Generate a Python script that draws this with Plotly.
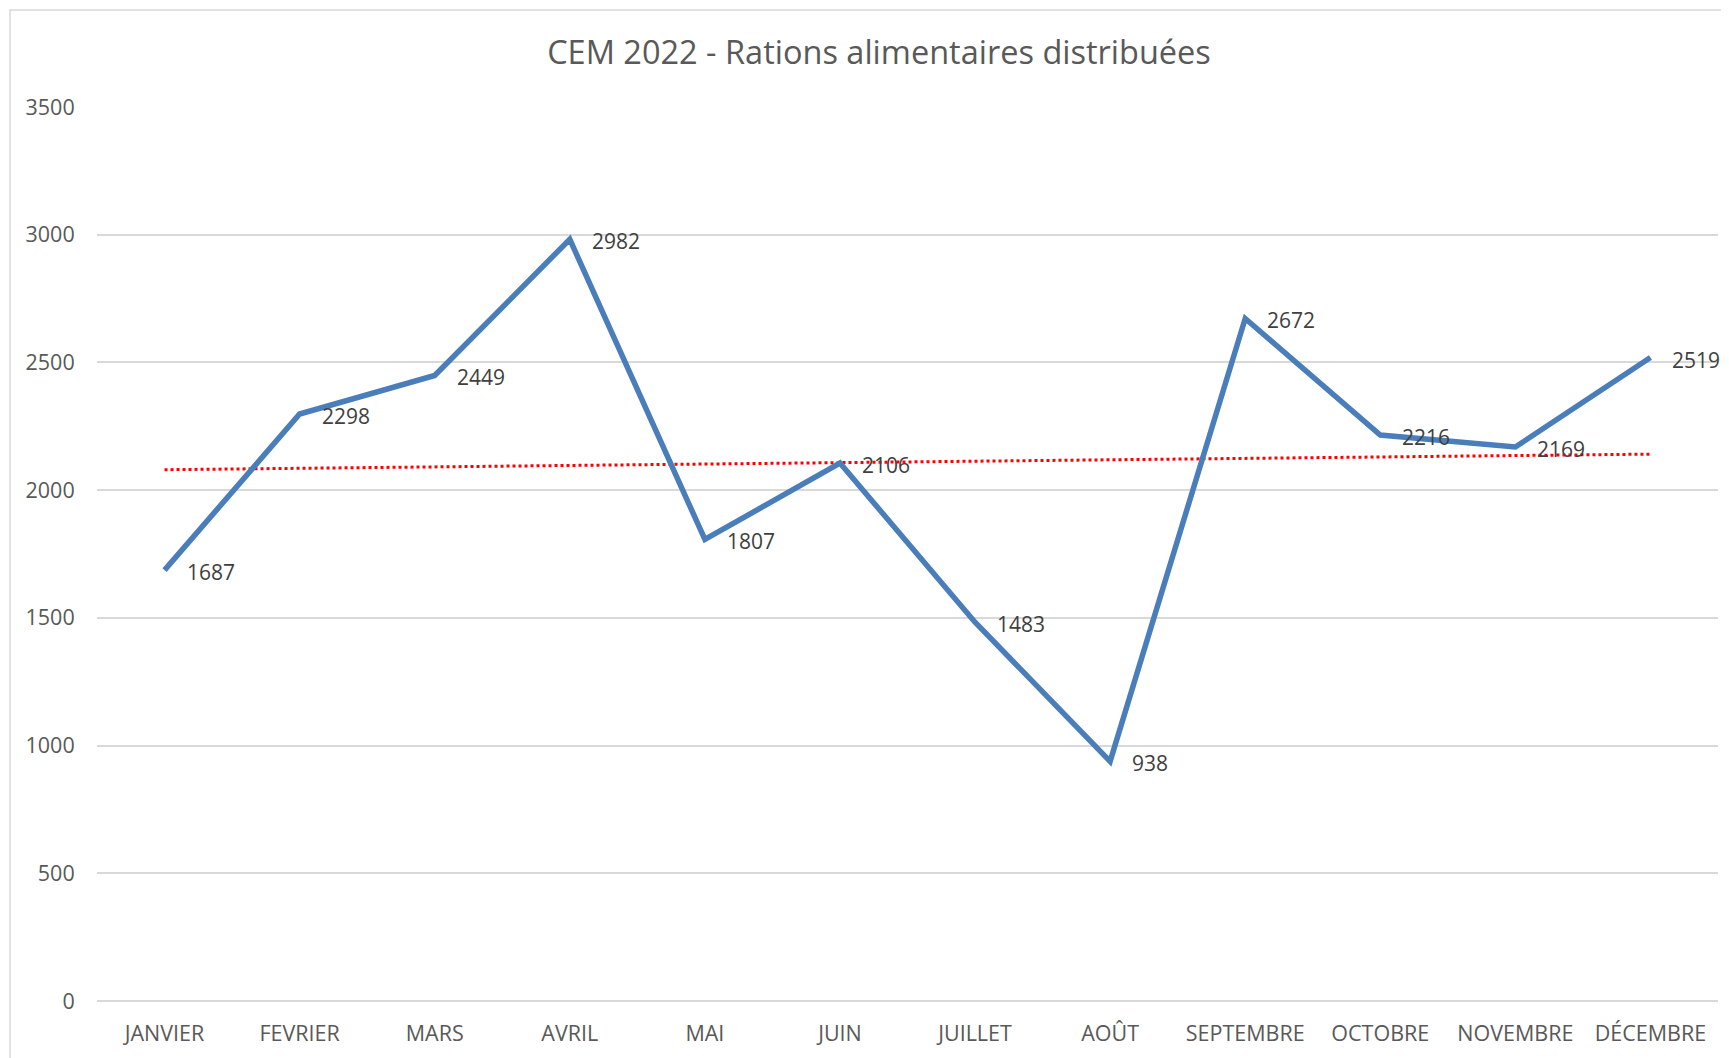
import plotly.graph_objects as go

# Données
mois = ["JANVIER", "FEVRIER", "MARS", "AVRIL", "MAI", "JUIN", "JUILLET",
        "AOÛT", "SEPTEMBRE", "OCTOBRE", "NOVEMBRE", "DÉCEMBRE"]
rations = [1687, 2298, 2449, 2982, 1807, 2106, 1483, 938, 2672, 2216, 2169, 2519]
# courbe de tendance linéaire (début / fin)
tendance_mois = ["JANVIER", "DÉCEMBRE"]
tendance = [2080, 2141]
y_ticks = [0, 500, 1000, 1500, 2000, 2500, 3000, 3500]

# la page HTML ajoute une marge de 8 px autour de la figure
W, H = 1721, 1050
ml, mr, mt, mb = 89, 11, 99, 57
pw = W - ml - mr
ph = H - mt - mb

fig = go.Figure()

fig.add_trace(go.Scatter(
    x=tendance_mois, y=tendance, mode="lines",
    line=dict(color="#ff0000", width=3, dash="dot"),
    hoverinfo="skip", showlegend=False,
))

fig.add_trace(go.Scatter(
    x=mois, y=rations, mode="lines",
    line=dict(color="#4a7ebb", width=5.5),
    showlegend=False,
))

# étiquettes de données à droite des points
for m, v in zip(mois, rations):
    fig.add_annotation(
        x=m, y=v, text=str(v), showarrow=False,
        xanchor="left", yanchor="middle", xshift=20, yshift=-2,
        font=dict(size=21, color="#404040", family="Open Sans"),
    )

fig.update_layout(
    width=W, height=H,
    margin=dict(l=ml, r=mr, t=mt, b=mb),
    paper_bgcolor="white", plot_bgcolor="white",
    font=dict(family="Open Sans", color="#595959"),
    title=dict(
        text="CEM 2022 - Rations alimentaires distribuées",
        x=871 / W, xanchor="center", xref="container",
        y=1 - 45 / H, yanchor="middle", yref="container",
        font=dict(size=32.5, color="#595959", family="Open Sans"),
    ),
    xaxis=dict(
        type="category", categoryarray=mois, range=[-0.5, 11.5],
        showgrid=False, showline=False, zeroline=False,
        ticks="outside", ticklen=13, tickcolor="rgba(0,0,0,0)",
        tickfont=dict(size=21.5, color="#595959"),
    ),
    yaxis=dict(
        range=[0, 3500], tickvals=y_ticks,
        showgrid=True, gridcolor="#d9d9d9", gridwidth=1.5,
        zeroline=True, zerolinecolor="#d9d9d9", zerolinewidth=1.5,
        showline=False,
        ticks="outside", ticklen=17, tickcolor="rgba(0,0,0,0)",
        tickfont=dict(size=21.5, color="#595959"),
    ),
    shapes=[dict(
        type="rect", xref="paper", yref="paper",
        x0=(2 - ml) / pw, x1=1.5,
        y0=-0.5, y1=(H - mb - 2) / ph,
        line=dict(color="#d9d9d9", width=1.5),
        fillcolor="rgba(0,0,0,0)", layer="below",
    )],
)

fig.write_html("out.html")
